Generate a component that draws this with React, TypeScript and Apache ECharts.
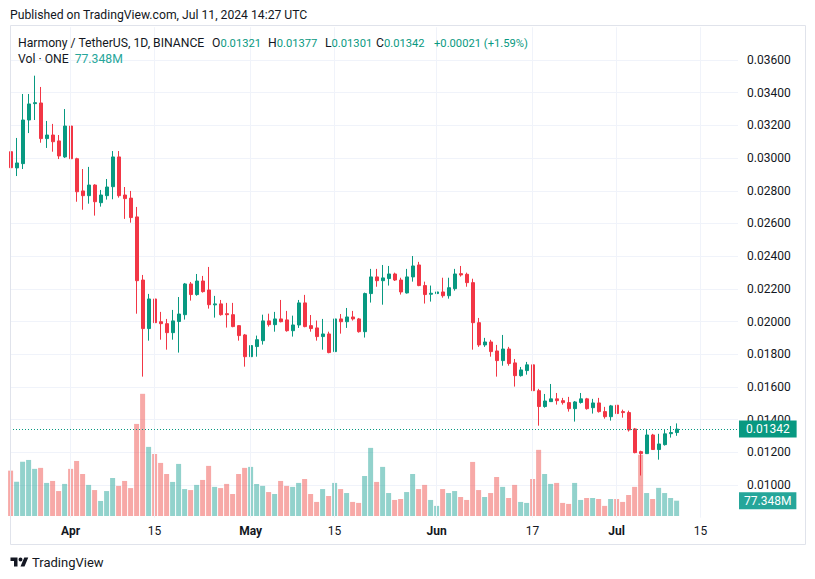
import React, { useEffect, useRef } from 'react';
import * as echarts from 'echarts';

// Daily candles, 2024-03-22 .. 2024-07-11 (index 0 = Mar 22)
const opens = [
  0.03039, 0.02940, 0.02966, 0.03233, 0.03333, 0.03337, 0.03119, 0.03141, 0.03105, 0.03007,
  0.03196, 0.02996, 0.02799, 0.02770, 0.02835, 0.02727, 0.02770, 0.02825, 0.03007, 0.02774,
  0.02755, 0.02640, 0.02254, 0.01957, 0.02138, 0.01999, 0.01987, 0.01932, 0.02000, 0.02042,
  0.02230, 0.02165, 0.02248, 0.02193, 0.02102, 0.02108, 0.02048, 0.02042, 0.01975, 0.01918,
  0.01785, 0.01847, 0.01883, 0.02004, 0.01981, 0.02016, 0.02010, 0.01944, 0.01979, 0.02114,
  0.01975, 0.01961, 0.01908, 0.01924, 0.01816, 0.02016, 0.01999, 0.02028, 0.02016, 0.01938,
  0.02171, 0.02273, 0.02250, 0.02263, 0.02291, 0.02254, 0.02175, 0.02273, 0.02346, 0.02220,
  0.02167, 0.02171, 0.02181, 0.02158, 0.02201, 0.02293, 0.02289, 0.02238, 0.01993, 0.01857,
  0.01875, 0.01820, 0.01761, 0.01832, 0.01747, 0.01669, 0.01700, 0.01735, 0.01577, 0.01480,
  0.01510, 0.01527, 0.01516, 0.01504, 0.01467, 0.01505, 0.01527, 0.01473, 0.01502, 0.01449,
  0.01418, 0.01488, 0.01449, 0.01443, 0.01343, 0.01204, 0.01192, 0.01306, 0.01217, 0.01247,
  0.01314, 0.01321,
];
const highs = [
  0.03172, 0.03123, 0.03392, 0.03392, 0.03504, 0.03435, 0.03227, 0.03209, 0.03141, 0.03300,
  0.03251, 0.03002, 0.02933, 0.02946, 0.02840, 0.02805, 0.02872, 0.03043, 0.03043, 0.02823,
  0.02799, 0.02701, 0.02285, 0.02169, 0.02224, 0.02059, 0.02016, 0.02071, 0.02150, 0.02236,
  0.02242, 0.02291, 0.02279, 0.02334, 0.02157, 0.02132, 0.02114, 0.02114, 0.01978, 0.01924,
  0.01883, 0.01914, 0.02042, 0.02048, 0.02059, 0.02132, 0.02065, 0.02036, 0.02132, 0.02163,
  0.02040, 0.02006, 0.02016, 0.01938, 0.02046, 0.02046, 0.02083, 0.02065, 0.02022, 0.02177,
  0.02322, 0.02322, 0.02346, 0.02340, 0.02299, 0.02268, 0.02322, 0.02401, 0.02365, 0.02244,
  0.02220, 0.02220, 0.02268, 0.02268, 0.02322, 0.02340, 0.02299, 0.02262, 0.02022, 0.01900,
  0.01888, 0.01857, 0.01918, 0.01845, 0.01771, 0.01722, 0.01753, 0.01753, 0.01588, 0.01557,
  0.01618, 0.01563, 0.01533, 0.01539, 0.01514, 0.01563, 0.01533, 0.01527, 0.01533, 0.01478,
  0.01490, 0.01514, 0.01461, 0.01455, 0.01349, 0.01210, 0.01337, 0.01313, 0.01313, 0.01337,
  0.01361, 0.01377,
];
const lows = [
  0.02862, 0.02890, 0.02933, 0.03153, 0.03233, 0.03094, 0.03062, 0.03039, 0.02994, 0.03001,
  0.02868, 0.02733, 0.02684, 0.02721, 0.02648, 0.02703, 0.02746, 0.02748, 0.02758, 0.02628,
  0.02605, 0.02048, 0.01663, 0.01883, 0.01914, 0.01889, 0.01828, 0.01889, 0.01810, 0.02012,
  0.02128, 0.02158, 0.02177, 0.02079, 0.02024, 0.02036, 0.01963, 0.01965, 0.01883, 0.01724,
  0.01675, 0.01785, 0.01859, 0.01969, 0.01938, 0.01995, 0.01938, 0.01908, 0.01961, 0.01965,
  0.01938, 0.01883, 0.01828, 0.01806, 0.01810, 0.01926, 0.01961, 0.02006, 0.01932, 0.01902,
  0.02116, 0.02213, 0.02103, 0.02220, 0.02248, 0.02165, 0.02171, 0.02244, 0.02216, 0.02110,
  0.02122, 0.02134, 0.02146, 0.02140, 0.02189, 0.02275, 0.02213, 0.01828, 0.01845, 0.01845,
  0.01785, 0.01663, 0.01730, 0.01730, 0.01602, 0.01663, 0.01675, 0.01559, 0.01363, 0.01473,
  0.01508, 0.01492, 0.01492, 0.01449, 0.01388, 0.01498, 0.01461, 0.01437, 0.01443, 0.01406,
  0.01394, 0.01431, 0.01412, 0.01327, 0.01194, 0.01058, 0.01190, 0.01215, 0.01155, 0.01241,
  0.01290, 0.01301,
];
const closes = [
  0.02941, 0.02970, 0.03233, 0.03331, 0.03339, 0.03119, 0.03141, 0.03100, 0.03013, 0.03196,
  0.02996, 0.02794, 0.02770, 0.02835, 0.02733, 0.02774, 0.02823, 0.03007, 0.02770, 0.02752,
  0.02636, 0.02250, 0.01957, 0.02138, 0.01993, 0.01987, 0.01932, 0.02004, 0.02046, 0.02230,
  0.02165, 0.02248, 0.02183, 0.02103, 0.02108, 0.02042, 0.02042, 0.01969, 0.01914, 0.01785,
  0.01853, 0.01889, 0.02004, 0.01981, 0.02016, 0.01999, 0.01944, 0.01979, 0.02114, 0.01969,
  0.01957, 0.01908, 0.01924, 0.01810, 0.02016, 0.01999, 0.02028, 0.02016, 0.01938, 0.02171,
  0.02273, 0.02250, 0.02267, 0.02291, 0.02254, 0.02181, 0.02273, 0.02340, 0.02220, 0.02165,
  0.02173, 0.02181, 0.02158, 0.02207, 0.02291, 0.02285, 0.02238, 0.01993, 0.01857, 0.01875,
  0.01816, 0.01761, 0.01832, 0.01743, 0.01669, 0.01704, 0.01735, 0.01577, 0.01480, 0.01514,
  0.01527, 0.01516, 0.01504, 0.01467, 0.01508, 0.01527, 0.01467, 0.01502, 0.01449, 0.01418,
  0.01484, 0.01437, 0.01443, 0.01337, 0.01198, 0.01192, 0.01306, 0.01217, 0.01251, 0.01313,
  0.01321, 0.01342,
];
// Volume in millions ONE
const volumes = [
  229, 173, 274, 283, 238, 243, 167, 177, 126, 162,
  238, 278, 212, 157, 131, 76, 126, 192, 152, 177,
  141, 465, 617, 349, 313, 268, 212, 172, 263, 136,
  131, 157, 182, 253, 147, 141, 162, 111, 212, 243,
  248, 162, 152, 121, 111, 177, 152, 147, 167, 187,
  111, 71, 136, 101, 167, 136, 116, 71, 66, 202,
  344, 172, 248, 116, 81, 86, 121, 212, 136, 157,
  81, 51, 136, 116, 126, 96, 81, 273, 131, 96,
  116, 197, 147, 91, 157, 71, 66, 187, 334, 212,
  162, 167, 66, 61, 167, 81, 91, 91, 86, 51,
  86, 86, 71, 106, 147, 309, 116, 86, 142, 116,
  91, 77.348,
];

const timeTickDays = [10, 24, 40, 54, 71, 87, 101, 115];
const timeTickLabels = ['Apr', '15', 'May', '15', 'Jun', '17', 'Jul', '15'];
const monthNames = ['Apr', 'May', 'Jun', 'Jul'];

const UP = '#089981';
const DOWN = '#f23645';
const VOL_UP = 'rgba(38,166,154,0.5)';
const VOL_DOWN = 'rgba(239,83,80,0.5)';
const VOL_LABEL = '#26a69a';
const TXT = '#131722';
const GRIDC = '#f0f3fa';
const FONT = 'Roboto, "Noto Sans", sans-serif';
const HFS = 12.2;
const VFS = 11.2;

const LOGO_D =
  'M14 22H7V11H0V4h14v18zM28 22h-8l7.5-18h8L28 22zM24 8a4 4 0 1 1-8 0a4 4 0 1 1 8 0z';
let logoRegistered = false;

export default function App() {
  const ref = useRef<HTMLDivElement>(null);
  useEffect(() => {
    if (!ref.current) return;
    if (!logoRegistered) {
      echarts.graphic.registerShape('tvlogo', echarts.graphic.extendPath(LOGO_D, {}));
      logoRegistered = true;
    }
    const chart = echarts.init(ref.current, null, { renderer: 'svg' });
    const n = opens.length;
    const last = n - 1;
    const f5 = (v: number) => v.toFixed(5);
    const chg = closes[last] - closes[last - 1];
    const pct = (chg / closes[last - 1]) * 100;
    const chgTxt = `${chg >= 0 ? '+' : ''}${f5(chg)} (${chg >= 0 ? '+' : ''}${pct.toFixed(2)}%)`;
    const volTxt = `${volumes[last].toFixed(3)}M`;

    const candleData = opens.map((o, i) => [i, o, closes[i], lows[i], highs[i]]);
    const volData = volumes.map((v, i) => ({
      value: [i, v],
      itemStyle: { color: closes[i] >= opens[i] ? VOL_UP : VOL_DOWN },
    }));

    const nSplit = 16;
    const splitColors = Array.from({ length: nSplit }, (_, i) =>
      i === 0 || i === nSplit - 1 ? 'rgba(0,0,0,0)' : GRIDC
    );
    const hfont = `${HFS}px ${FONT}`;
    const vfont = `${VFS}px ${FONT}`;
    const legendText = (x: number, text: string) => ({
      type: 'text',
      x,
      y: 43,
      z: 100,
      style: {
        text,
        fill: TXT,
        font: hfont,
        verticalAlign: 'middle',
        rich: { v: { fill: UP, font: vfont } },
      },
    });

    const option: any = {
      animation: false,
      backgroundColor: '#ffffff',
      textStyle: { fontFamily: FONT },
      grid: [
        { left: 10, right: 77, top: 27.3, bottom: 61.3 },
        { left: 10, right: 77, top: 316, bottom: 63 },
      ],
      xAxis: [
        {
          type: 'value',
          gridIndex: 0,
          min: -0.1,
          max: 121.23,
          axisLine: { show: false },
          axisTick: { show: false },
          splitLine: { show: false },
          axisLabel: {
            customValues: timeTickDays,
            color: TXT,
            fontSize: 12,
            fontFamily: FONT,
            margin: 7,
            formatter: (v: number) => {
              const idx = timeTickDays.indexOf(Math.round(v));
              if (idx < 0) return '';
              const t = timeTickLabels[idx];
              return monthNames.includes(t) ? `{b|${t}}` : t;
            },
            rich: { b: { fontWeight: 'bold', fontSize: 12, color: TXT, fontFamily: FONT } },
          },
        },
        { type: 'value', gridIndex: 1, min: -0.1, max: 121.23, show: false },
      ],
      yAxis: [
        {
          type: 'value',
          gridIndex: 0,
          position: 'right',
          min: 0.008,
          max: 0.038,
          interval: 0.002,
          axisLine: { show: false },
          axisTick: { show: false },
          splitLine: { show: true, lineStyle: { color: splitColors, width: 1 } },
          axisLabel: {
            color: TXT,
            fontSize: 12,
            fontFamily: FONT,
            margin: 9,
            formatter: (v: number) => (v < 0.0095 || v > 0.0365 ? '' : f5(v)),
          },
        },
        { type: 'value', gridIndex: 1, min: 0, max: 1010, show: false },
      ],
      series: [
        {
          type: 'line',
          xAxisIndex: 0,
          yAxisIndex: 0,
          data: [],
          silent: true,
          z: 0,
          markLine: {
            silent: true,
            symbol: ['none', 'none'],
            label: { show: false },
            lineStyle: { color: GRIDC, type: 'solid', width: 1 },
            data: timeTickDays.map((d) => ({ xAxis: d })),
          },
        },
        {
          type: 'bar',
          xAxisIndex: 1,
          yAxisIndex: 1,
          barWidth: 5,
          data: volData,
          z: 2,
        },
        {
          type: 'candlestick',
          xAxisIndex: 0,
          yAxisIndex: 0,
          data: candleData,
          encode: { x: 0, y: [1, 2, 3, 4] },
          barWidth: 3.5,
          z: 3,
          itemStyle: {
            color: UP,
            color0: DOWN,
            borderColor: UP,
            borderColor0: DOWN,
            borderWidth: 1,
          },
        },
        {
          type: 'line',
          xAxisIndex: 0,
          yAxisIndex: 0,
          data: [],
          silent: true,
          z: 5,
          markLine: {
            silent: true,
            precision: 6,
            symbol: ['none', 'none'],
            lineStyle: { color: UP, type: [1, 2], width: 1 },
            label: {
              show: true,
              position: 'end',
              distance: 1,
              formatter: f5(closes[last]),
              color: '#ffffff',
              backgroundColor: UP,
              padding: [3, 7, 2, 7],
              fontSize: 12,
              fontFamily: FONT,
            },
            data: [{ yAxis: closes[last] }],
          },
        },
        {
          type: 'line',
          xAxisIndex: 1,
          yAxisIndex: 1,
          data: [],
          silent: true,
          z: 5,
          markLine: {
            silent: true,
            precision: 4,
            symbol: ['none', 'none'],
            lineStyle: { color: 'rgba(0,0,0,0)', width: 0 },
            label: {
              show: true,
              position: 'end',
              distance: 1,
              formatter: volTxt,
              color: '#ffffff',
              backgroundColor: VOL_LABEL,
              padding: [3, 5, 2, 5],
              fontSize: 12,
              fontFamily: FONT,
            },
            data: [{ yAxis: volumes[last] }],
          },
        },
      ],
      graphic: [
        {
          type: 'rect',
          z: 100,
          silent: true,
          shape: { x: 10.5, y: 25.5, width: 795, height: 519 },
          style: { fill: 'none', stroke: '#e0e3eb', lineWidth: 1 },
        },
        {
          type: 'text',
          x: 10,
          y: 15,
          z: 100,
          style: {
            text: 'Published on TradingView.com, Jul 11, 2024 14:27 UTC',
            fill: TXT,
            font: hfont,
            verticalAlign: 'middle',
          },
        },
        legendText(18, 'Harmony / TetherUS, 1D, BINANCE'),
        legendText(212, `O{v|${f5(opens[last])}}`),
        legendText(268, `H{v|${f5(highs[last])}}`),
        legendText(325, `L{v|${f5(lows[last])}}`),
        legendText(376, `C{v|${f5(closes[last])}}`),
        legendText(434, `{v|${chgTxt}}`),
        {
          type: 'text',
          x: 18,
          y: 59,
          z: 100,
          style: {
            text: `Vol · ONE  {v|${volTxt}}`,
            fill: TXT,
            font: hfont,
            verticalAlign: 'middle',
            rich: { v: { fill: VOL_LABEL, font: hfont } },
          },
        },
        {
          type: 'tvlogo',
          x: 10.5,
          y: 555.5,
          scaleX: 0.5,
          scaleY: 0.5,
          z: 100,
          style: { fill: TXT },
        },
        {
          type: 'text',
          x: 32,
          y: 562,
          z: 100,
          style: {
            text: 'TradingView',
            fill: TXT,
            font: `13px ${FONT}`,
            verticalAlign: 'middle',
          },
        },
      ],
    };
    chart.setOption(option);
    return () => chart.dispose();
  }, []);
  return (
    <div
      ref={ref}
      style={{ position: 'absolute', left: 0, top: 0, width: 815, height: 579, background: '#fff' }}
    />
  );
}
